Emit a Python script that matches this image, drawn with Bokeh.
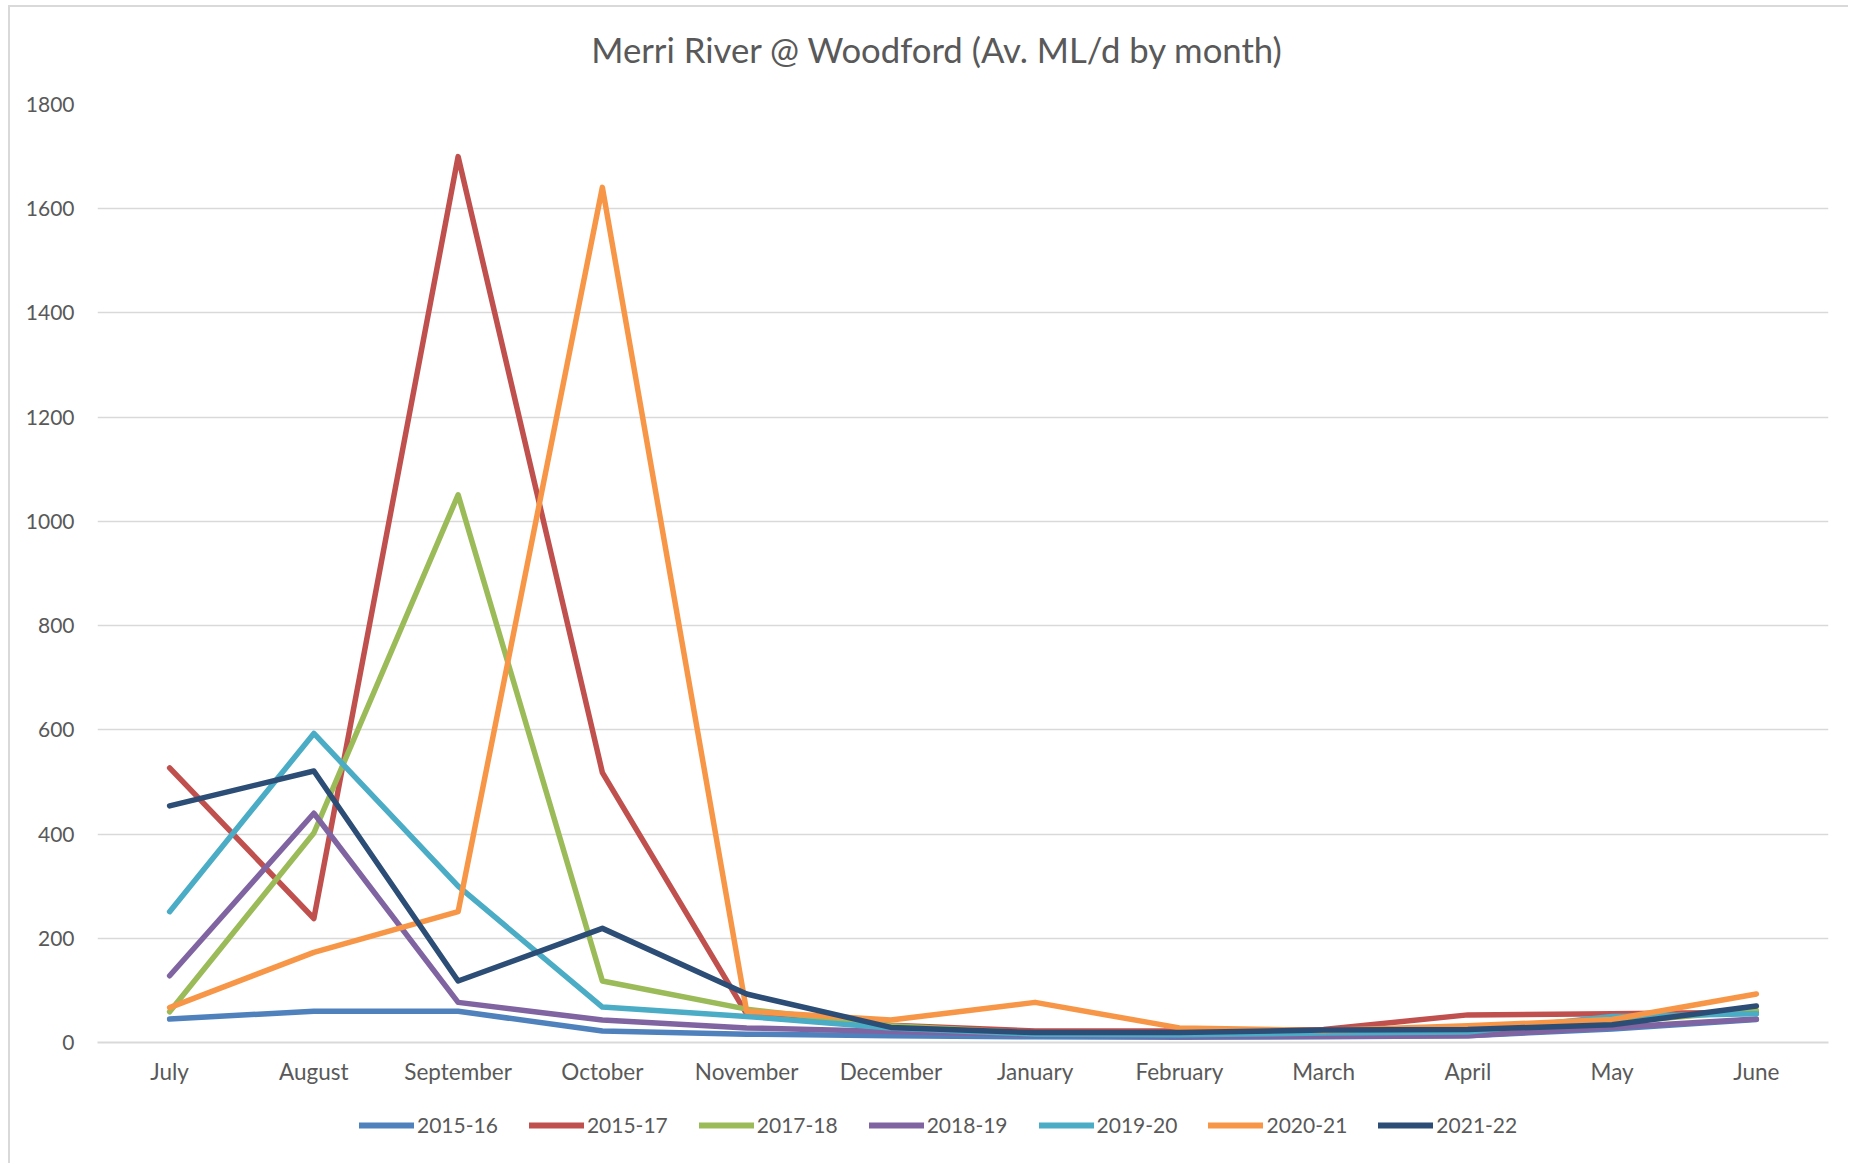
from bokeh.plotting import figure
from bokeh.models import Range1d, FixedTicker, Legend, LegendItem, Label
from bokeh.layouts import column
from bokeh.embed import file_html
from bokeh.resources import INLINE

months = ["July", "August", "September", "October", "November", "December",
          "January", "February", "March", "April", "May", "June"]
series_names = ["2015-16", "2015-17", "2017-18", "2018-19", "2019-20", "2020-21", "2021-22"]
s2015_16 = [45, 60, 60, 22, 16, 13, 11, 10, 11, 13, 26, 44]
s2015_17 = [527, 238, 1700, 518, 55, 33, 22, 22, 25, 53, 55, 58]
s2017_18 = [59, 402, 1051, 118, 64, 32, 18, 17, 20, 22, 38, 62]
s2018_19 = [128, 440, 77, 43, 28, 21, 15, 12, 12, 13, 29, 45]
s2019_20 = [251, 593, 300, 68, 50, 28, 16, 15, 18, 20, 50, 55]
s2020_21 = [67, 173, 251, 1641, 60, 43, 77, 28, 23, 32, 44, 93]
s2021_22 = [454, 521, 118, 219, 93, 29, 19, 19, 24, 25, 34, 70]
y_ticks = [0, 200, 400, 600, 800, 1000, 1200, 1400, 1600, 1800]
title_text = "Merri River @ Woodford (Av. ML/d by month)"

series = [s2015_16, s2015_17, s2017_18, s2018_19, s2019_20, s2020_21, s2021_22]
colors = ["#4F81BD", "#C0504D", "#9BBB59", "#8064A2", "#4BACC6", "#F79646", "#2C4D75"]

FONT = "Lato"
TXT = "#595959"
W = 1838
TH = 75

# Title strip
tfig = figure(width=W, height=TH, x_range=Range1d(0, W), y_range=Range1d(0, TH),
              output_backend="svg", toolbar_location=None,
              x_axis_location=None, y_axis_location=None, min_border=0)
tfig.outline_line_color = None
tfig.grid.visible = False
tfig.add_layout(Label(x=892, y=33, text=title_text, text_align="center", text_baseline="middle",
                      text_font=FONT, text_font_size="34.7px", text_color=TXT))

# Main chart
p = figure(width=W, height=1083 - TH, x_range=months, y_range=Range1d(0, 1800),
           output_backend="svg", toolbar_location=None,
           min_border_left=87, min_border_right=20, min_border_top=97 - TH, min_border_bottom=48)
p.x_range.range_padding = 0
p.outline_line_color = None
p.xgrid.grid_line_color = None
p.ygrid.grid_line_color = "#D9D9D9"
p.ygrid.grid_line_width = 1.5

p.yaxis.ticker = FixedTicker(ticks=y_ticks)
p.yaxis.axis_line_color = None
p.yaxis.major_tick_line_color = None
p.yaxis.minor_tick_line_color = None
p.yaxis.major_label_standoff = 17
p.yaxis.major_label_text_font = FONT
p.yaxis.major_label_text_font_size = "21px"
p.yaxis.major_label_text_color = TXT

p.xaxis.axis_line_color = "#D9D9D9"
p.xaxis.axis_line_width = 2
p.xaxis.major_tick_line_color = None
p.xaxis.minor_tick_line_color = None
p.xaxis.major_label_standoff = 9
p.xaxis.major_label_text_font = FONT
p.xaxis.major_label_text_font_size = "22.5px"
p.xaxis.major_label_text_color = TXT

for name, vals, c in zip(series_names, series, colors):
    p.line(months, vals, line_color=c, line_width=5.5, line_join="round", line_cap="round")

# Legend strip below the chart
leg = figure(width=W, height=73, x_range=Range1d(0, 1), y_range=Range1d(0, 1),
             output_backend="svg", toolbar_location=None,
             x_axis_location=None, y_axis_location=None, min_border=0)
leg.outline_line_color = None
leg.grid.visible = False
items = []
for name, c in zip(series_names, colors):
    r = leg.line([5, 6], [5, 5], line_color=c, line_width=6, line_cap="round")
    items.append(LegendItem(label=name, renderers=[r]))
legend = Legend(items=items, orientation="horizontal", location=(262, 26),
                glyph_width=55, glyph_height=20, label_standoff=3, label_width=80,
                spacing=31, margin=0, padding=0,
                label_text_font=FONT, label_text_font_size="21px", label_text_color=TXT,
                border_line_color=None, background_fill_alpha=0)
leg.add_layout(legend, "center")

layout = column(tfig, p, leg, spacing=0,
                styles={"margin-left": "8px", "margin-top": "5px",
                        "border-left": "2px solid #D9D9D9", "border-top": "2px solid #D9D9D9"})
open("out.html", "w").write(file_html(layout, INLINE))
